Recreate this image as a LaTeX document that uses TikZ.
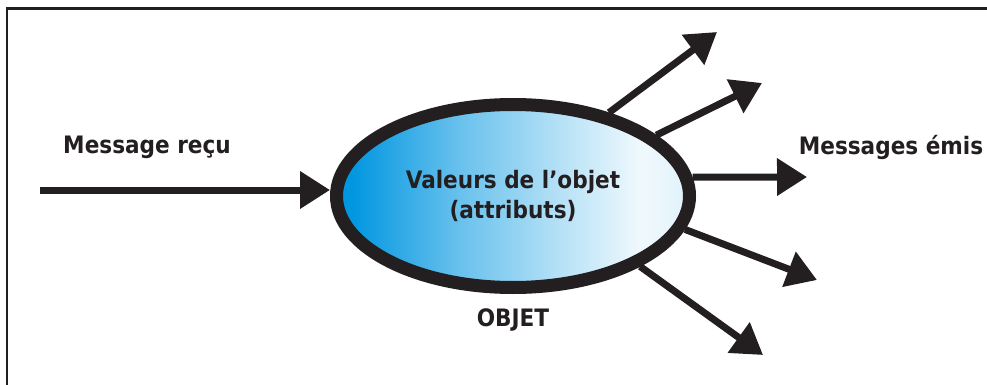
\documentclass[tikz,border=0pt]{standalone}
\usepackage{fontspec}
\newfontfamily\objfont{DejaVu Sans Condensed Bold}
\usetikzlibrary{arrows.meta,%
                shapes.geometric}
\definecolor{ink}{RGB}{35,31,32}
\definecolor{objblue}{RGB}{0,150,224}
\pgfdeclarehorizontalshading{objshade}{100bp}{color(0bp)=(objblue); color(27bp)=(objblue);
  color(42bp)=(objblue!60!white); color(57bp)=(objblue!28!white); color(68bp)=(objblue!6!white);
  color(75bp)=(objblue!12!white); color(100bp)=(objblue!12!white)}

\begin{document}
\begin{tikzpicture}
  [x=1pt,y=-1pt,
   every node/.style={font=\objfont\fontsize{24}{30}\selectfont,text=ink},
   objet/.style={ellipse,draw=ink,line width=13pt,shading=objshade,inner sep=0pt,
                 minimum width=353pt,minimum height=183pt,align=center},
   msg/.style={draw=ink,line width=7pt,-{Triangle[length=30pt,width=36pt]}}]
  \useasboundingbox (0,0) rectangle (987,385);
  \draw[ink,line width=2.5pt] (7,385) -- (7,8.5) -- (987,8.5);
  \node[objet] (obj) at (513,196) {Valeurs de l’objet\\(attributs)};
  \node (objname) at (513,320) {OBJET};
  \node (recu) at (147,147) {Message reçu};
  \node (emis) at (891,147) {Messages émis};
  \coordinate (msgin) at (40,190);
  \coordinate (t1) at (717,32);
  \coordinate (t2) at (762,83);
  \coordinate (t3) at (807,177);
  \coordinate (t4) at (817,280);
  \coordinate (t5) at (763,355);
  \draw[msg] (msgin) -- (msgin -| obj.west);
  \foreach \a/\to in {41/t1,23/t2,6/t3,-11/t4,-29/t5}
    \draw[msg] (obj.\a) -- (\to);
\end{tikzpicture}
\end{document}
